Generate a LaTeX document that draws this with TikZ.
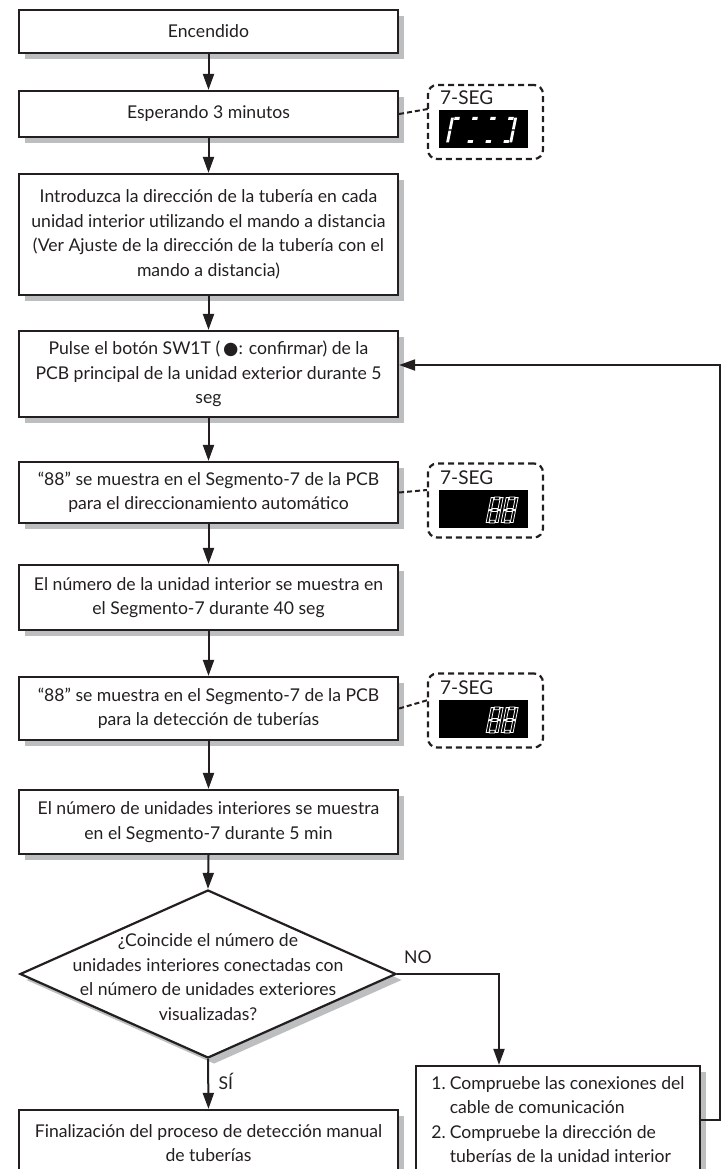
\documentclass[tikz,border=0pt]{standalone}
\usepackage{fontspec}
\setmainfont{Lato}
\newfontfamily\dejavu{DejaVu Sans}
\usetikzlibrary{arrows.meta,shapes.geometric,shadows,calc}
\definecolor{ink}{HTML}{231F20}
\definecolor{shade}{HTML}{BCBEC0}
\newcommand\sgdigit[3]{\begin{scope}[shift={(#1,#2)},x=1pt,y=1pt,xslant=0.2]#3\end{scope}}
\newcommand\segA[1]{\path[#1] (3.4,23.2) rectangle (8.6,26);}
\newcommand\segG[1]{\path[#1] (3.4,11.6) rectangle (8.6,14.4);}
\newcommand\segD[1]{\path[#1] (3.4,0) rectangle (8.6,2.8);}
\newcommand\segF[1]{\path[#1] (0,13.6) rectangle (2.8,25.4);}
\newcommand\segE[1]{\path[#1] (0,0.6) rectangle (2.8,12.4);}
\newcommand\segB[1]{\path[#1] (9.2,13.6) rectangle (12,25.4);}
\newcommand\segC[1]{\path[#1] (9.2,0.6) rectangle (12,12.4);}
\newcommand\eightdigit[1]{\segA{#1}\segB{#1}\segC{#1}\segD{#1}\segE{#1}\segF{#1}\segG{#1}}
\tikzset{
  txt/.style={font=\fontsize{17.6}{24.5}\selectfont, text=ink},
  box/.style={txt, draw=ink, line width=2.2pt, fill=white, minimum width=379pt,
    align=center, inner sep=0pt,
    general shadow={fill=shade, shadow xshift=6pt, shadow yshift=-6pt}},
  dia/.style={draw=ink, line width=2.2pt, fill=white, shape=diamond,
    minimum width=376pt, minimum height=168pt, inner sep=0pt,
    general shadow={fill=shade, shadow xshift=6pt, shadow yshift=-6pt}},
  conn/.style={draw=ink, line width=2pt, -{Triangle[length=16pt,width=11pt]}},
  callout/.style={draw=ink, line width=2.2pt, dash pattern=on 6pt off 4pt,
    rounded corners=9pt, minimum width=115pt, minimum height=74pt, inner sep=0pt},
  dashconn/.style={draw=ink, line width=2pt, dash pattern=on 5pt off 3pt},
  screen/.style={fill=black, minimum width=89pt, minimum height=38pt, inner sep=0pt},
  seglabel/.style={font=\fontsize{19}{20}\selectfont, text=ink, anchor=west, inner sep=0pt},
  solidseg/.style={fill=white},
  hollowseg/.style={draw=white, fill=black, line width=0.8pt},
}
\begin{document}
\begin{tikzpicture}[x=1pt,y=-1pt]
\useasboundingbox (0,0) rectangle (726,1169);

\node[box, minimum height=43pt] (b1) at (208.5,31.5) {Encendido};
\node[box, minimum height=46pt] (b2) at (208.5,114) {Esperando 3 minutos};
\node[box, minimum height=121pt] (b3) at (208.5,234.5) {Introduzca la dirección de la tubería en cada\\unidad interior utilizando el mando a distancia\\(Ver Ajuste de la dirección de la tubería con el\\mando a distancia)};
\node[box, minimum height=86pt] (b4) at (208.5,374) {Pulse el botón SW1T (\,{\dejavu ●}: confirmar) de la\\PCB principal de la unidad exterior durante 5\\seg};
\node[box, minimum height=61pt] (b5) at (208.5,492.5) {“88” se muestra en el Segmento-7 de la PCB\\para el direccionamiento automático};
\node[box, minimum height=65pt] (b6) at (208.5,597.5) {El número de la unidad interior se muestra en\\el Segmento-7 durante 40 seg};
\node[box, minimum height=63pt] (b7) at (208.5,708.5) {“88” se muestra en el Segmento-7 de la PCB\\para la detección de tuberías};
\node[box, minimum height=64pt] (b8) at (208.5,822) {El número de unidades interiores se muestra\\en el Segmento-7 durante 5 min};
\node[dia] (d) at (208,974) {};
\node[txt, align=center, inner sep=0pt] (dt) at (208,977) {¿Coincide el número de\\unidades interiores conectadas con\\el número de unidades exteriores\\visualizadas?};
\node[box, minimum height=66pt] (b9) at (208.5,1143) {Finalización del proceso de detección manual\\de tuberías};
\node[box, minimum width=284pt, minimum height=110pt, align=left] (r) at (558,1121)
  {\begin{tabular}{@{}l@{\hspace{4pt}}l@{}}1.&Compruebe las conexiones del\\&cable de comunicación\\2.&Compruebe la dirección de\\&tuberías de la unidad interior\end{tabular}};

% callouts
\node[callout] (c1) at (485.5,122) {};
\node[screen] (s1) at (483.5,129) {};
\node[seglabel] (l1) at (440,98) {7-SEG};
\node[callout] (c2) at (485.5,500.5) {};
\node[screen] (s2) at (483,509) {};
\node[seglabel] (l2) at (440,478) {7-SEG};
\node[callout] (c3) at (485.5,710.5) {};
\node[screen] (s3) at (483,719) {};
\node[seglabel] (l3) at (440,688) {7-SEG};

\sgdigit{446}{143}{\segA{solidseg}\segF{solidseg}\segE{solidseg}}
\sgdigit{464}{143}{\segA{solidseg}\segD{solidseg}}
\sgdigit{482}{143}{\segA{solidseg}\segD{solidseg}}
\sgdigit{500}{143}{\segA{solidseg}\segB{solidseg}\segC{solidseg}\segD{solidseg}}
\sgdigit{486}{523}{\eightdigit{hollowseg}}
\sgdigit{501}{523}{\eightdigit{hollowseg}}
\sgdigit{486}{733}{\eightdigit{hollowseg}}
\sgdigit{501}{733}{\eightdigit{hollowseg}}

\coordinate (k1) at (428,109);
\coordinate (k2) at (427,490);
\coordinate (k3) at (428,700);
\draw[dashconn] (b2.east) -- (k1);
\draw[dashconn] (b5.east) -- (k2);
\draw[dashconn] (b7.east) -- (k3);

% main arrows
\draw[conn] (b1) -- (b2);
\draw[conn] (b2) -- (b3);
\draw[conn] (b3) -- (b4);
\draw[conn] (b4) -- (b5);
\draw[conn] (b5) -- (b6);
\draw[conn] (b6) -- (b7);
\draw[conn] (b7) -- (b8);
\draw[conn] (b8.south) -- (d.north);
\draw[conn] (d.south) -- node[txt, right=6pt, pos=0.45] (si) {SÍ} (b9.north);

\coordinate (nj) at (499,974);
\draw[conn] (d.east) -- (nj) -- (nj |- r.north);
\node[txt, inner sep=0pt] (no) at (418,957) {NO};

\coordinate (rt1) at (720,1120);
\coordinate (rt2) at (720,365);
\draw[conn] (r.east |- rt1) -- (rt1) -- (rt2) -- (b4.east |- rt2);
\end{tikzpicture}
\end{document}
